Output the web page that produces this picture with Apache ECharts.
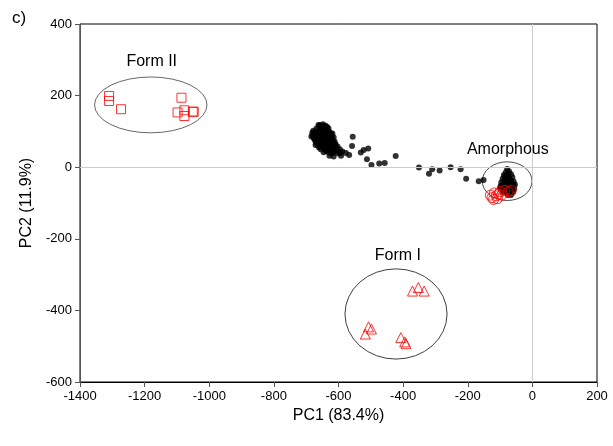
<!DOCTYPE html>
<html>
<head>
<meta charset="utf-8">
<script src="https://cdn.jsdelivr.net/npm/echarts@6/dist/echarts.min.js"></script>
<style>
html,body{margin:0;padding:0;background:#fff;}
#chart{width:613px;height:446px;}
</style>
</head>
<body>
<div id="chart"></div>
<script>
// ---- data ----
var xTicks = [-1400, -1200, -1000, -800, -600, -400, -200, 0, 200];
var yTicks = [-600, -400, -200, 0, 200, 400];

// black dots: starting cluster, transition trail, amorphous cluster
var clusterA = [
  [-680,90],[-676,80],[-672,98],[-670,70],[-668,108],[-665,85],[-663,60],[-660,112],[-658,95],[-656,75],
  [-655,50],[-652,104],[-650,88],[-648,65],[-646,42],[-645,115],[-643,98],[-641,78],[-640,55],[-638,108],
  [-636,88],[-634,68],[-632,45],[-630,100],[-628,80],[-626,60],[-624,38],[-622,92],[-620,72],[-618,52],
  [-615,84],[-613,64],[-612,44],[-675,88],[-667,78],[-661,68],[-657,100],[-653,58],[-649,110],[-644,84],
  [-639,70],[-635,96],[-631,52],[-627,72],[-623,84],[-619,62],[-616,40],[-610,55],[-605,45],[-600,38],
  [-596,50],[-592,32],[-588,44],[-662,118],[-648,120],[-635,112],[-678,102],[-684,86],[-671,62],[-660,55],
  [-642,48],[-628,32],[-615,30],
  [-674,94],[-670,84],[-666,96],[-664,72],[-659,82],[-654,92],[-651,76],[-647,100],[-644,70],[-641,90],
  [-637,62],[-633,80],[-629,90],[-626,70],[-622,62],[-620,82],[-617,74],[-612,72],[-609,64],[-651,66],
  [-656,108],[-641,104],[-631,108],[-626,96],[-619,94],[-646,56],[-636,44],[-622,48],[-607,52],[-666,66],
  [-673,76],[-681,96],[-657,118],[-653,114],[-640,116],[-632,58],[-614,54],[-603,58],[-598,42],[-594,40]
];
var trail = [
  [-556,85],[-558,59],[-577,40],[-567,34],[-531,41],[-522,48],[-508,52],[-512,22],[-498,6],[-474,10],
  [-457,12],[-423,31],[-351,-1],[-320,-18],[-310,-6],[-287,-9],[-253,0],[-222,-6],[-205,-32],[-166,-39],
  [-151,-36]
];
var clusterB = [
  [-78,-5],[-82,-14],[-72,-12],[-88,-22],[-78,-22],[-66,-20],[-92,-32],[-82,-30],[-72,-30],[-62,-28],
  [-96,-42],[-86,-40],[-76,-40],[-66,-38],[-58,-40],[-98,-52],[-88,-50],[-78,-50],[-68,-50],[-58,-52],
  [-94,-62],[-84,-60],[-74,-60],[-64,-62],[-56,-60],[-90,-70],[-80,-70],[-70,-72],[-60,-70],[-76,-78],
  [-66,-78],[-84,-45],[-70,-45],[-92,-57],[-62,-45],[-74,-18],[-86,-65],[-100,-58],[-54,-48],
  [-80,-35],[-70,-36],[-90,-47],[-80,-55],[-70,-55],[-62,-56],[-86,-27],[-76,-26],[-68,-66],[-80,-64]
];
// red open markers
var amorphousCircles = [
  [-130,-78],[-125,-85],[-118,-72],[-112,-80],[-108,-88],[-100,-68],[-95,-78],[-85,-65],[-75,-68],[-65,-65],
  [-120,-90],[-105,-75]
];
var formIISquares = [
  [-1310,199],[-1310,185],[-1273,162],[-1086,194],[-1098,153],[-1077,159],[-1077,143],[-1051,155],[-1048,155]
];
var formITriangles = [
  [-371,-346],[-353,-336],[-335,-346],[-507,-446],[-498,-452],[-517,-466],[-407,-476],[-395,-488],[-391,-493]
];
// group ellipses: [centerX, centerY, radiusX, radiusY]
var ellipses = [
  [-1181, 174, 174, 78],
  [-422, -410, 158, 126],
  [-78, -39, 77, 54]
];
// group labels: [x, y, text]
var groupLabels = [
  [-1178, 294, 'Form II'],
  [-416, -246, 'Form I'],
  [-76, 50, 'Amorphous']
];

// ---- chart ----
var FONT = 'Liberation Sans, Arial, sans-serif';
var chart = echarts.init(document.getElementById('chart'), null, {renderer: 'canvas'});

function openMarker(name, symbol, size, data) {
  return {
    name: name, type: 'scatter', data: data, symbol: symbol, symbolSize: size,
    itemStyle: {color: 'rgba(0,0,0,0)', borderColor: '#ff0000', borderWidth: 1},
    z: 4, silent: true
  };
}
function dots(name, data) {
  return {
    name: name, type: 'scatter', data: data, symbol: 'circle', symbolSize: 6,
    itemStyle: {color: '#000'}, z: 3, silent: true
  };
}

var option = {
  animation: false,
  backgroundColor: '#fff',
  textStyle: {fontFamily: FONT},
  grid: {left: 80, right: 16, top: 24, bottom: 64, show: true, borderColor: '#000', borderWidth: 1, backgroundColor: 'transparent'},
  graphic: [{
    type: 'text', left: 12, top: 10,
    style: {text: 'c)', font: '17px ' + FONT, fill: '#000'}
  }],
  xAxis: {
    type: 'value', min: xTicks[0], max: xTicks[xTicks.length - 1], interval: 200,
    name: 'PC1 (83.4%)', nameLocation: 'middle', nameGap: 24,
    nameTextStyle: {fontSize: 16, color: '#000', fontFamily: FONT},
    axisLine: {onZero: false, lineStyle: {color: '#000', width: 1}},
    axisTick: {show: true, inside: false, length: 5, lineStyle: {color: '#555'}},
    axisLabel: {fontSize: 13, color: '#000', margin: 8, fontFamily: FONT, formatter: function (v) { return String(v); }},
    splitLine: {show: false}
  },
  yAxis: {
    type: 'value', min: yTicks[0], max: yTicks[yTicks.length - 1], interval: 200,
    name: 'PC2 (11.9%)', nameLocation: 'middle', nameGap: 43,
    nameTextStyle: {fontSize: 16, color: '#000', fontFamily: FONT},
    axisLine: {onZero: false, lineStyle: {color: '#555', width: 1}},
    axisTick: {show: true, inside: false, length: 5, lineStyle: {color: '#555'}},
    axisLabel: {fontSize: 13, color: '#000', margin: 8, fontFamily: FONT, formatter: function (v) { return String(v); }},
    splitLine: {show: false}
  },
  series: [
    {
      name: 'zero', type: 'line', data: [], silent: true, z: 1,
      markLine: {
        silent: true, symbol: 'none', label: {show: false},
        lineStyle: {color: '#cccccc', width: 1, type: 'solid'},
        data: [{xAxis: 0}, {yAxis: 0}]
      }
    },
    {
      name: 'ellipses', type: 'custom', silent: true, z: 2,
      data: ellipses,
      renderItem: function (params, api) {
        var c = api.coord([api.value(0), api.value(1)]);
        var s = api.size([api.value(2), api.value(3)]);
        return {
          type: 'circle',
          x: c[0], y: c[1], scaleY: s[1] / s[0],
          shape: {cx: 0, cy: 0, r: s[0]},
          style: {fill: 'none', stroke: '#333', lineWidth: 1, strokeNoScale: true}
        };
      }
    },
    {
      name: 'labels', type: 'custom', silent: true, z: 5,
      data: groupLabels,
      renderItem: function (params, api) {
        var c = api.coord([api.value(0), api.value(1)]);
        return {
          type: 'text', x: c[0], y: c[1],
          style: {text: groupLabels[params.dataIndex][2], font: '16px ' + FONT, fill: '#000', align: 'center', verticalAlign: 'middle'}
        };
      }
    },
    dots('clusterA', clusterA),
    dots('trail', trail),
    dots('clusterB', clusterB),
    openMarker('Amorphous', 'circle', 10, amorphousCircles),
    openMarker('Form II', 'rect', 9, formIISquares),
    openMarker('Form I', 'triangle', 10, formITriangles)
  ]
};
chart.setOption(option);
</script>
</body>
</html>
